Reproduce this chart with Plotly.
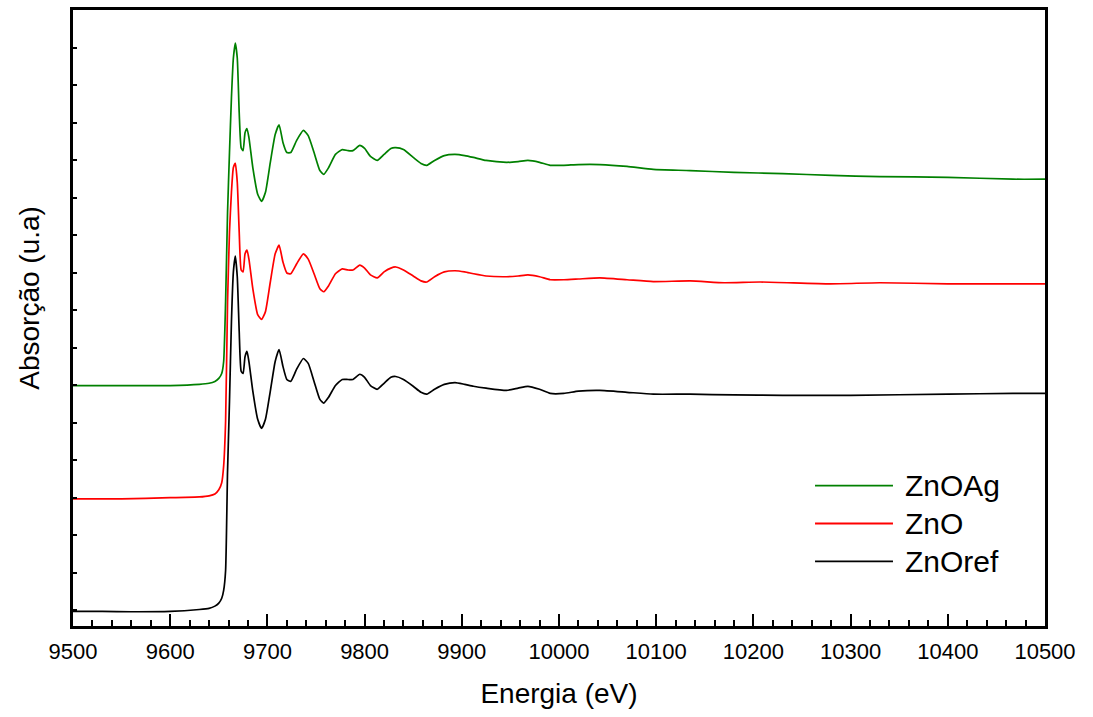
import plotly.graph_objects as go

# ---- data (absorption in arbitrary units) ----
energy_ref = [9500, 9530, 9560, 9600, 9630, 9640, 9646, 9650, 9653, 9655, 9657, 9659, 9661, 9663, 9665,
              9667, 9669, 9671, 9673, 9675, 9677, 9679, 9681, 9685, 9690, 9694, 9698, 9703, 9708, 9712,
              9716, 9720, 9724, 9730, 9737, 9742, 9748, 9754, 9758, 9763, 9770, 9777, 9783, 9788, 9795,
              9800, 9806, 9813, 9820, 9827, 9832, 9840, 9850, 9858, 9864, 9872, 9882, 9893, 9903, 9912,
              9925, 9946, 9958, 9968, 9980, 9991, 10005, 10020, 10042, 10070, 10097, 10135, 10180, 10230,
              10300, 10400, 10467, 10500]
znoref = [-0.003, -0.003, -0.004, -0.003, 0.002, 0.005, 0.011, 0.019, 0.032, 0.053, 0.106, 0.371, 0.557,
          0.769, 0.902, 0.944, 0.889, 0.743, 0.637, 0.631, 0.676, 0.690, 0.663, 0.584, 0.509, 0.485, 0.509,
          0.584, 0.663, 0.695, 0.650, 0.615, 0.610, 0.642, 0.671, 0.658, 0.610, 0.562, 0.552, 0.568, 0.599,
          0.615, 0.615, 0.615, 0.629, 0.621, 0.599, 0.589, 0.605, 0.621, 0.623, 0.615, 0.597, 0.581, 0.576,
          0.589, 0.602, 0.607, 0.602, 0.597, 0.592, 0.586, 0.592, 0.597, 0.589, 0.578, 0.578, 0.584, 0.586,
          0.581, 0.576, 0.576, 0.574, 0.573, 0.573, 0.576, 0.578, 0.578]

energy_zno = [9500, 9550, 9600, 9630, 9640, 9646, 9650, 9653, 9655, 9657, 9659, 9661, 9663, 9665, 9667,
              9669, 9671, 9673, 9675, 9677, 9679, 9681, 9685, 9690, 9694, 9698, 9703, 9708, 9712, 9716,
              9720, 9724, 9730, 9737, 9742, 9748, 9754, 9758, 9763, 9770, 9777, 9783, 9788, 9795, 9800,
              9806, 9813, 9820, 9827, 9832, 9840, 9850, 9858, 9864, 9872, 9882, 9893, 9903, 9912, 9925,
              9946, 9958, 9968, 9980, 9991, 10005, 10020, 10042, 10070, 10097, 10135, 10170, 10207, 10279,
              10330, 10400, 10467, 10500]
zno = [0.297, 0.297, 0.300, 0.302, 0.305, 0.310, 0.321, 0.340, 0.385, 0.504, 0.822, 1.008, 1.114, 1.180,
       1.191, 1.141, 1.008, 0.907, 0.902, 0.950, 0.960, 0.936, 0.857, 0.788, 0.775, 0.796, 0.875, 0.950,
       0.973, 0.928, 0.899, 0.897, 0.923, 0.950, 0.936, 0.897, 0.857, 0.849, 0.865, 0.897, 0.910, 0.907,
       0.907, 0.920, 0.912, 0.894, 0.886, 0.902, 0.912, 0.915, 0.907, 0.891, 0.878, 0.875, 0.889, 0.902,
       0.905, 0.902, 0.897, 0.891, 0.889, 0.891, 0.894, 0.889, 0.881, 0.881, 0.883, 0.886, 0.881, 0.876,
       0.878, 0.873, 0.875, 0.870, 0.873, 0.870, 0.870, 0.870]

energy_ag = [9500, 9550, 9600, 9630, 9640, 9646, 9650, 9653, 9655, 9657, 9659, 9661, 9663, 9665, 9667,
             9669, 9671, 9673, 9675, 9677, 9679, 9681, 9685, 9690, 9694, 9698, 9703, 9708, 9712, 9716,
             9720, 9724, 9730, 9737, 9742, 9748, 9754, 9758, 9763, 9770, 9777, 9783, 9788, 9795, 9800,
             9806, 9813, 9820, 9827, 9832, 9840, 9850, 9858, 9864, 9872, 9882, 9893, 9903, 9912, 9925,
             9946, 9958, 9968, 9980, 9991, 10005, 10020, 10042, 10070, 10097, 10135, 10180, 10230, 10280,
             10330, 10400, 10467, 10500]
znoag = [0.599, 0.599, 0.599, 0.602, 0.605, 0.610, 0.618, 0.631, 0.663, 0.822, 1.061, 1.220, 1.366, 1.472,
         1.512, 1.472, 1.326, 1.233, 1.225, 1.273, 1.284, 1.260, 1.180, 1.109, 1.090, 1.114, 1.194, 1.268,
         1.294, 1.247, 1.220, 1.220, 1.252, 1.279, 1.265, 1.220, 1.172, 1.162, 1.180, 1.215, 1.228, 1.225,
         1.225, 1.239, 1.231, 1.210, 1.199, 1.215, 1.231, 1.233, 1.228, 1.207, 1.191, 1.186, 1.199, 1.212,
         1.215, 1.212, 1.207, 1.199, 1.194, 1.196, 1.199, 1.194, 1.186, 1.186, 1.188, 1.188, 1.183, 1.175,
         1.172, 1.167, 1.164, 1.159, 1.156, 1.154, 1.149, 1.149]

series_names = ["ZnOAg", "ZnO", "ZnOref"]
series_colors = ["#008000", "#FF0000", "#000000"]
x_tick_values = list(range(9500, 10501, 100))
x_tick_labels = [str(v) for v in x_tick_values]

FONT = "Liberation Sans, Arial, sans-serif"

fig = go.Figure()
for xs, ys, name, col in [(energy_ref, znoref, "ZnOref", "#000000"),
                          (energy_zno, zno, "ZnO", "#FF0000"),
                          (energy_ag, znoag, "ZnOAg", "#008000")]:
    fig.add_trace(go.Scatter(x=xs, y=ys, mode="lines", name=name,
                             line=dict(color=col, width=1.7, shape="spline", smoothing=0.5),
                             showlegend=False))

# manual legend (Origin style, long line swatches)
legend_rows_y = [0.2278, 0.1664, 0.1050]
for name, col, yy in zip(series_names, series_colors, legend_rows_y):
    fig.add_shape(type="line", xref="paper", yref="paper", x0=0.7634, x1=0.8436, y0=yy, y1=yy,
                  line=dict(color=col, width=1.8))
    fig.add_annotation(xref="paper", yref="paper", x=0.8539, y=yy, text=name, showarrow=False,
                       xanchor="left", yanchor="middle", font=dict(family=FONT, size=30, color="black"))

# y-axis title placed like the original (slightly above the axis middle)
fig.add_annotation(xref="paper", yref="paper", x=-0.0442, y=0.533, text="Absorção (u.a)",
                   textangle=-90, showarrow=False, xanchor="center", yanchor="middle",
                   font=dict(family=FONT, size=28, color="black"))

fig.update_layout(
    width=1093, height=717,
    margin=dict(l=73, r=48, t=7, b=91),
    paper_bgcolor="white", plot_bgcolor="white",
    font=dict(family=FONT, color="black"),
    showlegend=False,
)
fig.update_xaxes(
    range=[9500, 10500], tickvals=x_tick_values, ticktext=x_tick_labels,
    ticks="inside", ticklen=12, tickwidth=2, tickcolor="black",
    minor=dict(dtick=20, ticks="inside", ticklen=6, tickwidth=2, tickcolor="black", showgrid=False),
    showline=True, linewidth=3, linecolor="black", mirror=True, showgrid=False, zeroline=False,
    tickfont=dict(family=FONT, size=22, color="black"), ticklabelstandoff=4,
    title=dict(text="Energia (eV)", font=dict(family=FONT, size=28, color="black"), standoff=20),
)
fig.update_yaxes(
    range=[-0.042, 1.6], dtick=0.1, tick0=0, showticklabels=False,
    ticks="inside", ticklen=4, tickwidth=2, tickcolor="black",
    showline=True, linewidth=3, linecolor="black", mirror=True, showgrid=False, zeroline=False,
)

fig.write_html("out.html")
